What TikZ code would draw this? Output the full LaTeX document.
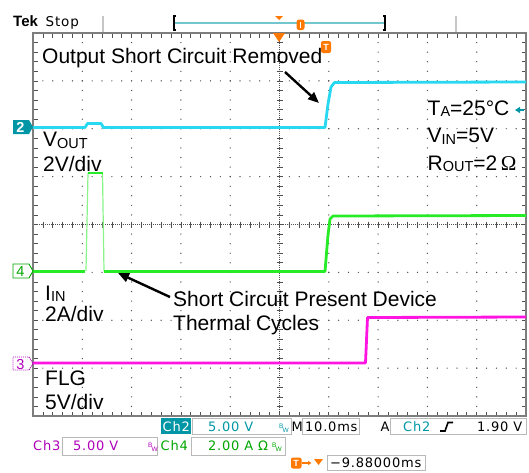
\documentclass[tikz,border=0pt]{standalone}
\usepackage{fontspec}
\setmainfont{Liberation Sans}
\newfontfamily\rofont[LetterSpace=6]{DejaVu Sans}
\newfontfamily\serifo{Liberation Serif}
\usetikzlibrary{arrows.meta}
\definecolor{cytr}{RGB}{40,215,240}
\definecolor{teal2}{RGB}{0,150,165}
\definecolor{grtr}{RGB}{40,235,40}
\definecolor{grtx}{RGB}{0,165,0}
\definecolor{matr}{RGB}{255,20,225}
\definecolor{matx}{RGB}{175,0,185}
\definecolor{org}{RGB}{255,120,0}
\definecolor{frm}{RGB}{125,125,125}
\definecolor{dotc}{RGB}{80,80,80}
\newcommand{\sbs}[1]{\raisebox{-1.5pt}{\fontsize{14.5}{14.5}\selectfont #1}}
\newcommand{\bwmark}{\raisebox{2.5pt}{\fontsize{6.5}{6.5}\selectfont B}\hspace{-1pt}\raisebox{-1pt}{\fontsize{6.5}{6.5}\selectfont W}}
\tikzset{
  ann/.style={anchor=base west, inner sep=0, font=\fontsize{21}{25}\selectfont},
  ro/.style={anchor=base west, inner sep=0, font=\rofont\fontsize{13}{14}\selectfont},
  trace/.style={line width=2.8, line join=round},
  callout/.style={line width=2.4, -{Triangle[length=11pt,width=9pt]}},
}
\begin{document}
\begin{tikzpicture}[x=1pt,y=-1pt]
\useasboundingbox (0,0) rectangle (529,472);
% ---------- header ----------
\node[anchor=base west, inner sep=0, font=\bfseries\fontsize{15}{15}\selectfont] (tek) at (13,26.5) {Tek};
\node[ro, font=\rofont\fontsize{13.5}{14}\selectfont] (stop) at (45.5,26.5) {Stop};
\draw[gray!45, line width=1.5] (103,16) -- (103,31.5);
\draw[gray!45, line width=1.5] (456,16) -- (456,31.5);
\draw[line width=1.2] (176,16) -- (174,16) -- (174,30) -- (176,30);
\draw[line width=1.2] (383,16) -- (385,16) -- (385,30) -- (383,30);
\draw[teal2!55, line width=1.6] (175,23) -- (384,23);
\fill[org] (275,16) -- (283,16) -- (279,20) -- cycle;
\fill[org, rounded corners=2.5pt] (296.5,19.5) rectangle (304.5,30);
\draw[white, line width=1.3] (300.5,22) -- (300.5,28);
% ---------- graticule ----------
\pgfmathsetmacro{\dx}{49.3}
\pgfmathsetmacro{\dy}{47.875}
\foreach \i in {1,...,9}{
  \foreach \k in {1,...,39}{
    \fill[dotc] ({33+\i*\dx},{33+\k*\dy/5}) circle (0.7);
  }
}
\foreach \j in {1,...,7}{
  \foreach \k in {1,...,49}{
    \fill[dotc] ({33+\k*\dx/5},{33+\j*\dy}) circle (0.7);
  }
}
% centre cross
\draw[dotc, line width=0.7, dash pattern=on 1pt off 1pt] (33,224.6) -- (526,224.6);
\draw[dotc, line width=0.7, dash pattern=on 1pt off 1pt] (279.5,33) -- (279.5,416);
\foreach \k in {1,...,49}{
  \draw[dotc, line width=0.7] ({33+\k*\dx/5},221.6) -- ({33+\k*\dx/5},227.6);
}
\foreach \k in {1,...,39}{
  \draw[dotc, line width=0.7] (276.5,{33+\k*\dy/5}) -- (282.5,{33+\k*\dy/5});
}
% edge ticks
\foreach \k in {1,...,49}{
  \draw[dotc, line width=0.7] ({33+\k*\dx/5},33) -- ({33+\k*\dx/5},37.5);
  \draw[dotc, line width=0.7] ({33+\k*\dx/5},416) -- ({33+\k*\dx/5},411.5);
}
\foreach \k in {1,...,39}{
  \draw[dotc, line width=0.7] (33,{33+\k*\dy/5}) -- (37.5,{33+\k*\dy/5});
  \draw[dotc, line width=0.7] (526,{33+\k*\dy/5}) -- (521.5,{33+\k*\dy/5});
}
\draw[frm, line width=2.4] (33,33) rectangle (526,416);
\fill[org] (273,33) -- (285,33) -- (279,42) -- cycle;
% ---------- traces ----------
\draw[matr, trace] (33,363) -- (365.5,363) -- (367.5,317.5) -- (526,317);
\draw[grtr!55, line width=1.2] (86,271) -- (88,173);
\draw[grtr!55, line width=1.2] (102.5,173) -- (104,271);
\draw[grtr, trace] (33,271.5) -- (85,271.5);
\draw[grtr, trace] (88,173) -- (102.5,173);
\draw[grtr, trace] (104,271.5) -- (325,271.5) -- (328,235) -- (330,219) -- (333,216) -- (526,215.5);
\draw[cytr, trace] (33,127.5) -- (85,127.5) -- (87.5,123.5) -- (101,123.5) -- (103.5,127.5) -- (325,127.5) -- (328,104) -- (331,87) -- (334.5,82.5) -- (526,82);
% ---------- channel markers ----------
\fill[teal2] (13,120) -- (29,120) -- (33,127) -- (29,134) -- (13,134) -- cycle;
\node[inner sep=0, text=white, font=\bfseries\fontsize{14.5}{14.5}\selectfont] (m2) at (20.5,127.5) {2};
\filldraw[draw=grtx, fill=white, line width=0.9] (13,264) -- (29,264) -- (33,271) -- (29,278) -- (13,278) -- cycle;
\node[inner sep=0, text=grtx, font=\fontsize{14.5}{14.5}\selectfont] (m4) at (20.5,271.5) {4};
\draw[matx, line width=0.9, dash pattern=on 1pt off 1pt] (13,357) -- (29,357) -- (33,363.5) -- (29,370) -- (13,370) -- cycle;
\node[inner sep=0, text=matx, font=\fontsize{14.5}{14.5}\selectfont] (m3) at (20.5,364) {3};
% ---------- trigger markers ----------
\fill[org, rounded corners=2pt] (321,41) rectangle (331,53);
\node[inner sep=0, text=white, font=\bfseries\fontsize{9}{9}\selectfont] (tm) at (326,47) {T};
\draw[teal2, line width=1.2, -{Triangle[length=5pt,width=6pt]}] (524,110) -- (515,110);
% ---------- annotations ----------
\node[ann] (tOut) at (42,63) {Output Short Circuit Removed};
\node[ann] (vout) at (43,146.5) {V\sbs{OUT}};
\node[ann] (vdiv) at (43,171.5) {2V/div};
\node[ann] (iin) at (45,300) {I\sbs{IN}};
\node[ann] (idiv) at (45,321.5) {2A/div};
\node[ann] (flg) at (45,385) {FLG};
\node[ann] (fdiv) at (45,409.5) {5V/div};
\node[ann] (ta) at (427.5,115) {T\sbs{A}=25°C};
\node[ann] (vin) at (427.5,142.5) {V\sbs{IN}=5V};
\node[ann] (rout) at (427.5,170) {R\sbs{OUT}=2\,{\serifo Ω}};
\node[ann] (sc1) at (173,306.5) {Short Circuit Present Device};
\node[ann] (sc2) at (173,330.5) {Thermal Cycles};
\coordinate (a1s) at (285,72);
\coordinate (a1e) at (319,103);
\coordinate (a2s) at (170,297);
\coordinate (a2e) at (118,273);
\draw[callout] (a1s) -- (a1e);
\draw[callout] (a2s) -- (a2e);
% ---------- readouts row 1 ----------
\fill[teal2] (161,418) rectangle (191,433.5);
\node[ro, text=white] (c2) at (162.5,431.5) {Ch2};
\draw[gray!55, line width=0.8] (192,418) rectangle (291,434);
\node[ro, text=teal2] (c2v) at (208,431.5) {5.00 V};
\node[anchor=base west, inner sep=0, text=teal2] (bw1) at (279,431) {\bwmark};
\node[ro] (mm) at (291.5,431.5) {M};
\draw[gray!55, line width=0.8] (302,418) rectangle (359,434);
\node[ro] (tb) at (305,431.5) {10.0ms};
\node[ro] (aa) at (380.5,431.5) {A};
\draw[gray!55, line width=0.8] (390,418) rectangle (526,434);
\node[ro, text=teal2] (tc2) at (403,431.5) {Ch2};
\coordinate (sl1) at (440,431);
\coordinate (sl2) at (445,431);
\coordinate (sl3) at (448,422.5);
\coordinate (sl4) at (453,422.5);
\draw[line width=1.6] (sl1) -- (sl2) -- (sl3) -- (sl4);
\node[ro] (tl) at (477,431.5) {1.90 V};
% ---------- readouts row 2 ----------
\node[ro, text=matx] (c3) at (33,450.5) {Ch3};
\draw[gray!55, line width=0.8] (62,437) rectangle (157,455);
\node[ro, text=matx] (c3v) at (73,450.5) {5.00 V};
\node[anchor=base west, inner sep=0, text=matx] (bw3) at (148,450) {\bwmark};
\node[ro, text=grtx] (c4) at (160.5,450.5) {Ch4};
\draw[gray!55, line width=0.8] (191,437) rectangle (285,455);
\node[ro, text=grtx] (c4v) at (208,450.5) {2.00 A Ω};
\node[anchor=base west, inner sep=0, text=grtx] (bw4) at (272,450) {\bwmark};
% ---------- readouts row 3 ----------
\fill[org, rounded corners=2pt] (291,457.5) rectangle (301.5,468.5);
\node[inner sep=0, text=white, font=\bfseries\fontsize{9}{9}\selectfont] (tt) at (296.2,463) {T};
\coordinate (ar1) at (302,463);
\coordinate (ar2) at (311.5,463);
\draw[org, line width=1.2, -{Triangle[length=3.5pt,width=4pt]}] (ar1) -- (ar2);
\fill[org] (314,459) -- (323,459) -- (318.5,465) -- cycle;
\draw[gray!55, line width=0.8] (327,455.5) rectangle (425,470.5);
\node[ro] (tpos) at (330,467) {−9.88000ms};
\end{tikzpicture}
\end{document}
